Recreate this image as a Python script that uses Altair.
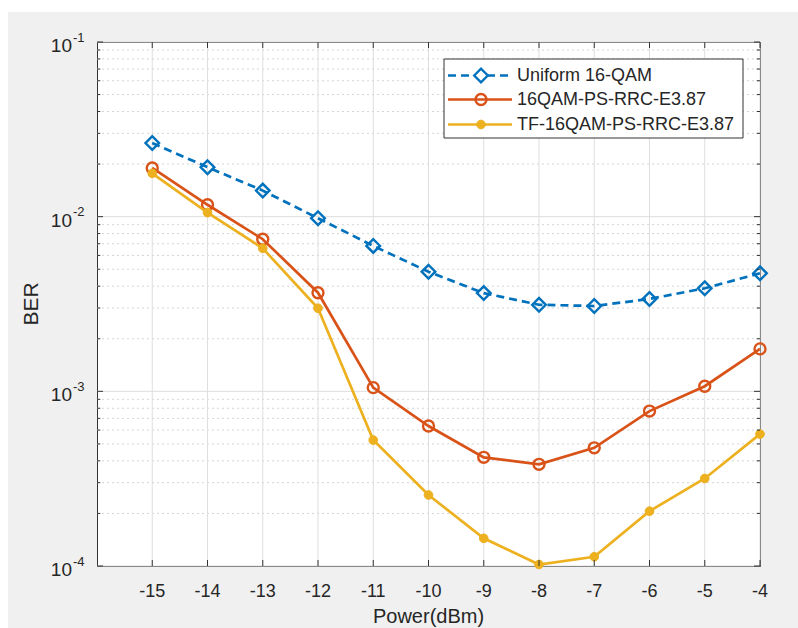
import altair as alt
import pandas as pd

# ---------------- data ----------------
power = [-15, -14, -13, -12, -11, -10, -9, -8, -7, -6, -5, -4]
ber_uniform = [0.0264, 0.0192, 0.0141, 0.0098, 0.0068, 0.00484, 0.00365,
               0.00313, 0.00308, 0.00338, 0.00389, 0.00474]
ber_ps = [0.0190, 0.0117, 0.00743, 0.00367, 0.00105, 0.000633, 0.000419,
          0.000382, 0.000475, 0.000771, 0.00107, 0.00175]
ber_tf = [0.0177, 0.01055, 0.00659, 0.00299, 0.000526, 0.000255, 0.000144,
          0.000102, 0.000113, 0.000206, 0.000317, 0.000569]
series_names = ["Uniform 16-QAM", "16QAM-PS-RRC-E3.87", "TF-16QAM-PS-RRC-E3.87"]

x_ticks = [-15, -14, -13, -12, -11, -10, -9, -8, -7, -6, -5, -4]
x_tick_labels = [str(v) for v in x_ticks]
x_domain = [-16, -4]
y_domain = [1e-4, 1e-1]
y_major = [1e-4, 1e-3, 1e-2, 1e-1]
y_major_base = ["10", "10", "10", "10"]
y_major_exp = ["-4", "-3", "-2", "-1"]
y_minor = [m * 10.0 ** e for e in (-4, -3, -2) for m in range(2, 10)]
x_title = "Power(dBm)"
y_title = "BER"

# ---------------- styling ----------------
W, H = 663, 524
PAD_L, PAD_T = 97, 42
FONT = "Liberation Sans"
TXT = "#262626"
AX = "#333333"
BLUE, ORANGE, YELLOW = "#0072BD", "#D95319", "#EDB120"

XS = alt.Scale(domain=x_domain, nice=False, zero=False)
YS = alt.Scale(type="log", domain=y_domain, nice=False)
X = alt.X("x:Q", scale=XS, axis=None)
Y = alt.Y("y:Q", scale=YS, axis=None)

df_xt = pd.DataFrame({"x": x_ticks, "lab": x_tick_labels})
df_ymaj = pd.DataFrame({"y": y_major, "base": y_major_base, "exp": y_major_exp})
df_ymin = pd.DataFrame({"y": y_minor})
one = pd.DataFrame({"k": [0]})

layers = []

# white strips outside the grey figure area
layers.append(alt.Chart(one).mark_rect(color="white").encode(
    x=alt.value(-PAD_L), x2=alt.value(W + 40), y=alt.value(-PAD_T), y2=alt.value(-PAD_T + 12)))
layers.append(alt.Chart(one).mark_rect(color="white").encode(
    x=alt.value(-PAD_L), x2=alt.value(-PAD_L + 8), y=alt.value(-PAD_T), y2=alt.value(H + 70)))

# grid
layers.append(alt.Chart(df_ymin).mark_rule(color="#d4d4d4", strokeWidth=1, strokeDash=[2, 3]).encode(
    y=Y, x=alt.value(0), x2=alt.value(W)))
layers.append(alt.Chart(df_ymaj).mark_rule(color="#dedede", strokeWidth=1).encode(
    y=Y, x=alt.value(0), x2=alt.value(W)))
layers.append(alt.Chart(df_xt).mark_rule(color="#dedede", strokeWidth=1).encode(
    x=X, y=alt.value(0), y2=alt.value(H)))

# series
LW = 2.7
specs = [
    (ber_uniform, BLUE, [8, 5], "diamond", False, 185),
    (ber_ps, ORANGE, None, "circle", False, 120),
    (ber_tf, YELLOW, None, "circle", True, 75),
]
for vals, col, dash, shape, filled, size in specs:
    df = pd.DataFrame({"x": power, "y": vals})
    lkw = dict(color=col, strokeWidth=LW)
    if dash:
        lkw["strokeDash"] = dash
    layers.append(alt.Chart(df).mark_line(**lkw).encode(x=X, y=Y))
    pkw = dict(shape=shape, size=size, filled=filled, opacity=1)
    if filled:
        pkw.update(fill=col, stroke=col, strokeWidth=1)
    else:
        pkw.update(stroke=col, strokeWidth=2.4, fill=None)
    layers.append(alt.Chart(df).mark_point(**pkw).encode(x=X, y=Y))

# ticks (inward)
TL, TM = 6, 3.3
layers.append(alt.Chart(df_xt).mark_rule(color=AX).encode(x=X, y=alt.value(H), y2=alt.value(H - TL)))
layers.append(alt.Chart(df_xt).mark_rule(color=AX).encode(x=X, y=alt.value(0), y2=alt.value(TL)))
layers.append(alt.Chart(df_ymaj).mark_rule(color=AX).encode(y=Y, x=alt.value(0), x2=alt.value(TL)))
layers.append(alt.Chart(df_ymaj).mark_rule(color=AX).encode(y=Y, x=alt.value(W), x2=alt.value(W - TL)))
layers.append(alt.Chart(df_ymin).mark_rule(color=AX).encode(y=Y, x=alt.value(0), x2=alt.value(TM)))
layers.append(alt.Chart(df_ymin).mark_rule(color=AX).encode(y=Y, x=alt.value(W), x2=alt.value(W - TM)))

# tick labels
layers.append(alt.Chart(df_xt).mark_text(font=FONT, fontSize=18, color=TXT, baseline="alphabetic",
                                         align="center").encode(
    x=X, y=alt.value(H + 31), text="lab:N"))
layers.append(alt.Chart(df_ymaj).mark_text(font=FONT, fontSize=19, color=TXT, baseline="alphabetic",
                                           align="right", dy=10).encode(
    y=Y, x=alt.value(-25), text="base:N"))
layers.append(alt.Chart(df_ymaj).mark_text(font=FONT, fontSize=13, color=TXT, baseline="alphabetic",
                                           align="left", dy=-0.5).encode(
    y=Y, x=alt.value(-24), text="exp:N"))

# axis titles
layers.append(alt.Chart(pd.DataFrame({"t": [x_title]})).mark_text(
    font=FONT, fontSize=20, color=TXT, baseline="alphabetic", align="center").encode(
    x=alt.value(W / 2), y=alt.value(H + 57), text="t:N"))
layers.append(alt.Chart(pd.DataFrame({"t": [y_title]})).mark_text(
    font=FONT, fontSize=21, color=TXT, baseline="alphabetic", align="center", angle=270).encode(
    x=alt.value(-59), y=alt.value(H / 2), text="t:N"))

# legend
LX0, LX1, LY0, LY1 = 347, 646, 17, 96
layers.append(alt.Chart(one).mark_rect(fill="white", stroke=AX, strokeWidth=1).encode(
    x=alt.value(LX0), x2=alt.value(LX1), y=alt.value(LY0), y2=alt.value(LY1)))
rows = [33.5, 57.5, 82.5]
for i, (vals, col, dash, shape, filled, size) in enumerate(specs):
    ry = rows[i]
    lkw = dict(color=col, strokeWidth=LW)
    if dash:
        lkw["strokeDash"] = dash
    layers.append(alt.Chart(one).mark_rule(**lkw).encode(
        x=alt.value(351), x2=alt.value(415), y=alt.value(ry)))
    pkw = dict(shape=shape, size=size, filled=filled, opacity=1)
    if filled:
        pkw.update(fill=col, stroke=col, strokeWidth=1)
    else:
        pkw.update(stroke=col, strokeWidth=2.4, fill="white" if dash else None)
    layers.append(alt.Chart(one).mark_point(**pkw).encode(x=alt.value(384), y=alt.value(ry)))
    layers.append(alt.Chart(pd.DataFrame({"t": [series_names[i]]})).mark_text(
        font=FONT, fontSize=18, color=TXT, baseline="middle", align="left").encode(
        x=alt.value(420), y=alt.value(ry), text="t:N"))

chart = alt.layer(*layers).properties(
    width=W, height=H,
    padding={"left": PAD_L, "top": PAD_T, "right": 798 - PAD_L - W, "bottom": 628 - PAD_T - H},
    autosize=alt.AutoSizeParams(type="none"),
).configure(background="#f0f0f0").configure_view(fill="white", stroke=AX, strokeWidth=1)

chart.save("out.html", embed_options={"renderer": "svg", "actions": False})
